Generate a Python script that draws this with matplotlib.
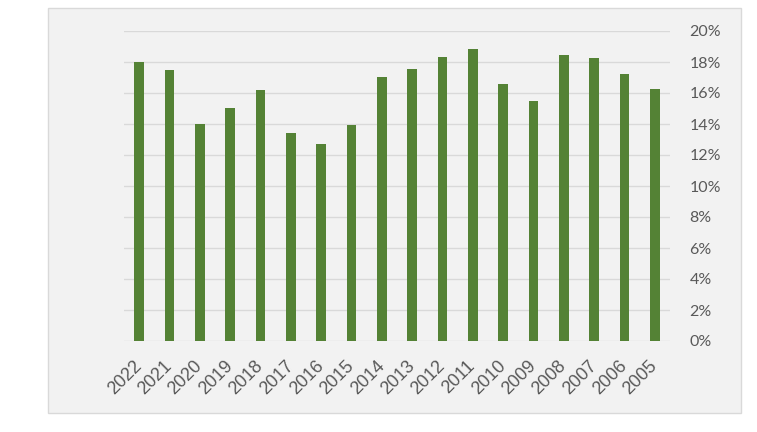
import matplotlib
matplotlib.use("Agg")
import matplotlib.pyplot as plt
from matplotlib.patches import Rectangle
from matplotlib.ticker import FuncFormatter

years = ["2022", "2021", "2020", "2019", "2018", "2017", "2016", "2015", "2014",
         "2013", "2012", "2011", "2010", "2009", "2008", "2007", "2006", "2005"]
values = [18.0, 17.5, 14.0, 15.05, 16.2, 13.4, 12.7, 13.95, 17.05,
          17.55, 18.35, 18.82, 16.6, 15.5, 18.45, 18.27, 17.22, 16.25]
yticks = [0, 2, 4, 6, 8, 10, 12, 14, 16, 18, 20]

plt.rcParams['font.family'] = ['Lato', 'DejaVu Sans']

W, H = 757, 432
fig = plt.figure(figsize=(W / 100, H / 100), dpi=100)
fig.patch.set_facecolor('white')

panel = Rectangle((48 / W, 1 - 413 / H), 693 / W, 405 / H, transform=fig.transFigure,
                  facecolor='#f2f2f2', edgecolor='#d9d9d9', linewidth=1.0, zorder=-10)
fig.add_artist(panel)

ax = fig.add_axes([124 / W, 1 - 341 / H, 546 / W, 310 / H])
ax.set_facecolor('none')
ax.set_zorder(1)

x = list(range(len(years)))
ax.bar(x, values, width=0.32, color='#548235', zorder=3)

ax.set_xlim(-0.5, len(years) - 0.5)
ax.set_ylim(0, 20)
ax.set_yticks(yticks)
ax.yaxis.set_major_formatter(FuncFormatter(lambda v, p: f"{v:.0f}%"))
ax.yaxis.tick_right()
ax.grid(axis='y', color='#d9d9d9', linewidth=1.0, zorder=0)
for s in ax.spines.values():
    s.set_visible(False)
ax.tick_params(axis='y', length=0, pad=14, labelsize=11.5, labelcolor='#595959')
ax.tick_params(axis='x', length=0, pad=16, labelcolor='#595959')
ax.set_xticks(x)
ax.set_xticklabels(years, rotation=45, ha='right', va='center', rotation_mode='anchor',
                   fontsize=13, family=['Liberation Sans', 'DejaVu Sans'])

fig.savefig("out.png", dpi=100, facecolor='white')
